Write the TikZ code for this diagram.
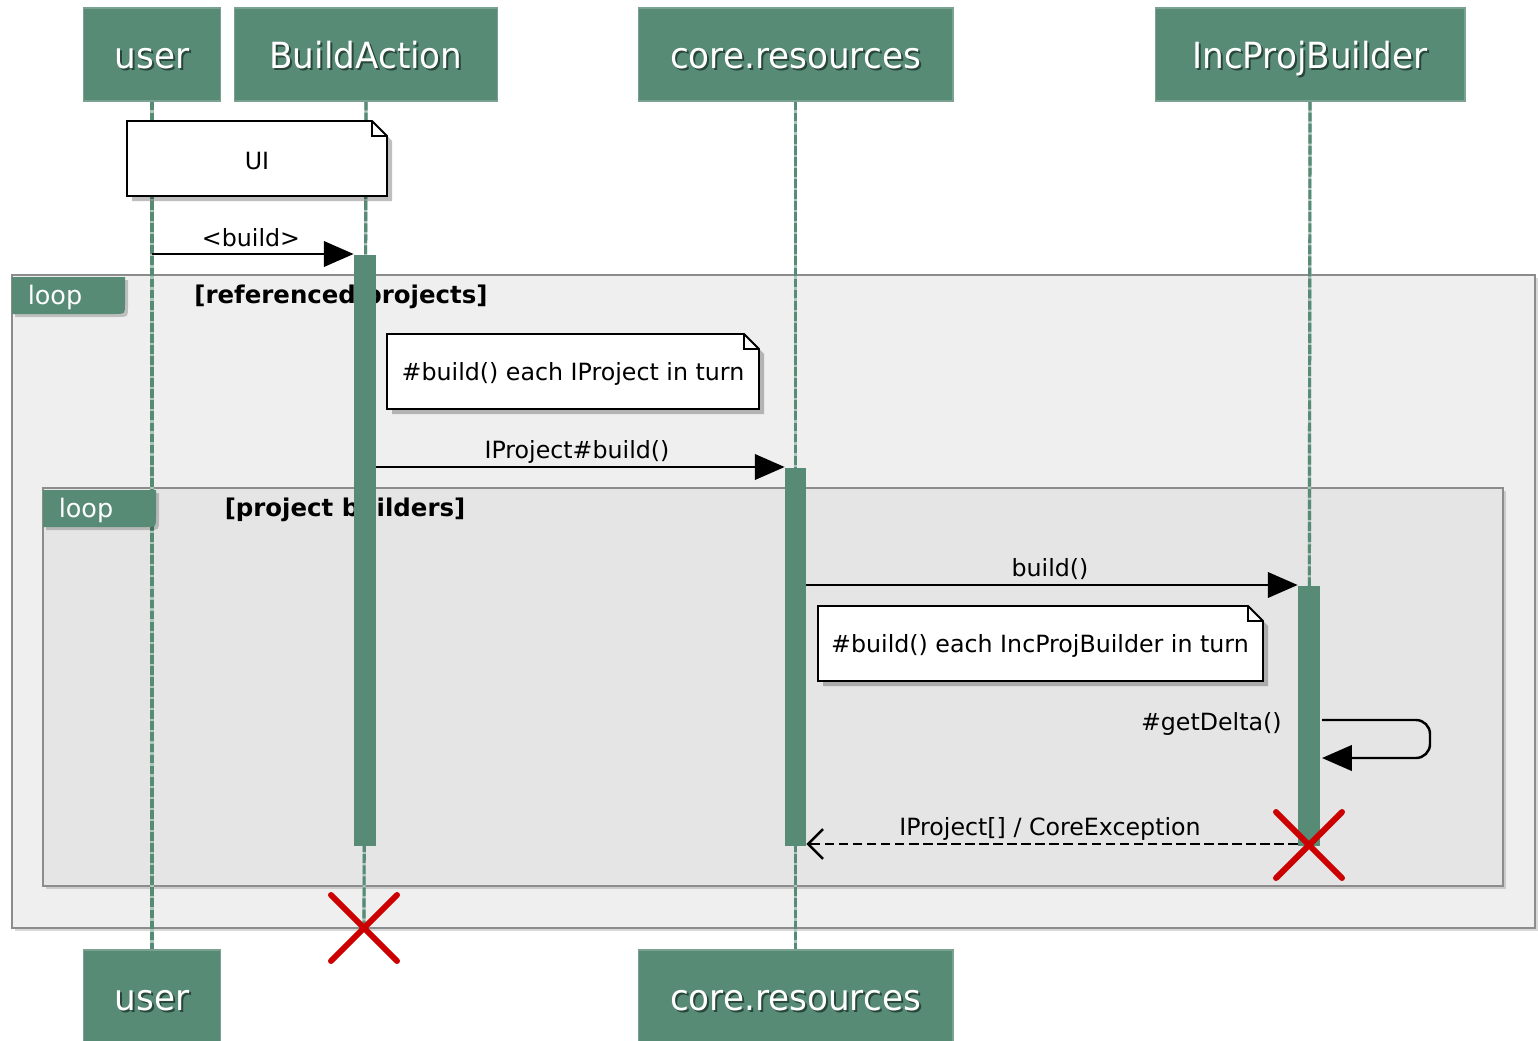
\documentclass[tikz,border=0pt]{standalone}
\usepackage{fontspec}
\setmainfont{DejaVu Sans}
\newfontfamily\partfam[FakeStretch=0.95]{DejaVu Sans}
\usetikzlibrary{arrows.meta}
\definecolor{umlgreen}{RGB}{87,139,118}
\definecolor{umldark}{RGB}{40,70,58}
\definecolor{outerfill}{RGB}{239,239,239}
\definecolor{innerfill}{RGB}{229,229,229}
\definecolor{framegray}{RGB}{140,140,140}
\definecolor{xred}{RGB}{204,0,0}
\newcommand\partfont{\partfam\fontsize{20.5}{24}\selectfont}
\newcommand\msgfont{\fontsize{13.5}{16}\selectfont}
\newcommand\tabfont{\fontsize{14.5}{17}\selectfont}
\newcommand\guardfont{\bfseries\fontsize{13.9}{16}\selectfont}
\newcommand\shtxt[1]{\rlap{\kern1.1pt\raisebox{-1.1pt}{\color{umldark}#1}}#1}
\begin{document}
\begin{tikzpicture}[x=0.02cm,y=-0.02cm,
  participant/.style={fill=umlgreen, draw=umlgreen!80!white, line width=0.6pt, text=white, inner sep=0pt, font=\partfont, minimum height=1.86cm, text height=16pt, text depth=0pt},
  lifebase/.style={draw=umlgreen!50!white, line width=1.8pt},
  lifedash/.style={draw=umlgreen, line width=1.8pt, dash pattern=on 5pt off 1.3pt},
  act/.style={fill=umlgreen, draw=none, inner sep=0pt, minimum width=0.44cm},
  msg/.style={draw=black, line width=1.4pt, -{Triangle[length=17pt,width=14.5pt]}},
  ret/.style={draw=black, line width=1.4pt, dash pattern=on 5.5pt off 2.5pt, -{Straight Barb[length=8.5pt,width=17pt,line width=1.4pt]}},
  lbl/.style={font=\msgfont, text=black, inner sep=0pt},
  framebox/.style={draw=framegray, line width=1.4pt},
  tabshape/.style={fill=umlgreen},
  tabtext/.style={font=\tabfont, text=white, inner sep=0pt},
  guard/.style={font=\guardfont, inner sep=0pt},
  notebox/.style={fill=white, draw=black, line width=1.1pt},
  shadowfill/.style={fill=black, opacity=0.25},
  destroy/.style={draw=xred, line width=3.4pt, line cap=round},
]
\useasboundingbox (0,0) rectangle (1538,1041);
\fill[white] (0,0) rectangle (1538,1041);

% ---- combined fragments (frames) ----
\fill[black, opacity=0.15] (15,278) rectangle (1538,931);
\draw[framebox, fill=outerfill] (12,275) rectangle (1535,928);
\fill[black, opacity=0.15] (46,491) rectangle (1506,889);
\draw[framebox, fill=innerfill] (43,488) rectangle (1503,886);

% ---- participants ----
\node[participant, minimum width=2.74cm] (user) at (152,54.5) {\shtxt{user}};
\node[participant, minimum width=5.26cm] (ba) at (366,54.5) {\shtxt{BuildAction}};
\node[participant, minimum width=6.3cm] (core) at (795.5,54.5) {\shtxt{core.resources}};
\node[participant, minimum width=6.2cm] (ipb) at (1310,54.5) {\shtxt{IncProjBuilder}};
\node[participant, minimum width=2.74cm, minimum height=1.84cm] (userb) at (152,996) {\shtxt{user}};
\node[participant, minimum width=6.3cm, minimum height=1.84cm] (coreb) at (795.5,996) {\shtxt{core.resources}};

% ---- destruction points ----
\coordinate (xba) at (364,928);
\coordinate (xipb) at (1309,845);

% ---- lifelines ----
\foreach \a/\b in {user.south/userb.north, ba.south/xba, core.south/coreb.north, ipb.south/xipb}{
  \draw[lifebase] (\a) -- (\b);
  \draw[lifedash] (\a) -- (\b);
}

% ---- loop tabs and guards ----
\fill[black, opacity=0.2] (15,280) -- (128,280) -- (128,307) .. controls (128,317) .. (118,317) -- (15,317) -- cycle;
\fill[tabshape] (12,277) -- (125,277) -- (125,304) .. controls (125,314) .. (115,314) -- (12,314) -- cycle;
\node[tabtext] (tab1) at (55,297) {loop};
\node[guard] (g1) at (341,297) {[referenced projects]};

\fill[black, opacity=0.2] (46,493) -- (159,493) -- (159,520) .. controls (159,530) .. (149,530) -- (46,530) -- cycle;
\fill[tabshape] (43,490) -- (156,490) -- (156,517) .. controls (156,527) .. (146,527) -- (43,527) -- cycle;
\node[tabtext] (tab2) at (86,510) {loop};
\node[guard] (g2) at (345,510) {[project builders]};

% ---- note UI ----
\fill[shadowfill] (132,126) -- (377,126) -- (392,141) -- (392,201) -- (132,201) -- cycle;
\draw[notebox] (127,121) -- (372,121) -- (387,136) -- (387,196) -- (127,196) -- cycle;
\draw[black, line width=0.8pt] (372,121) -- (372,136) -- (387,136);
\node[lbl] (n1) at (257,161) {UI};

% ---- activations ----
\node[act, minimum height=11.82cm] (baact) at (365,550.5) {};
\node[act, minimum width=0.42cm, minimum height=7.56cm] (coreact) at (795.5,657) {};
\node[act, minimum height=5.2cm] (ipbact) at (1309,716) {};

% ---- note 2 ----
\fill[shadowfill] (392,339) -- (749,339) -- (764,354) -- (764,414) -- (392,414) -- cycle;
\draw[notebox] (387,334) -- (744,334) -- (759,349) -- (759,409) -- (387,409) -- cycle;
\draw[black, line width=0.8pt] (744,334) -- (744,349) -- (759,349);
\node[lbl] (n2) at (573,374) {\#build() each IProject in turn};

% ---- note 3 ----
\fill[shadowfill] (823,611) -- (1253,611) -- (1268,626) -- (1268,686) -- (823,686) -- cycle;
\draw[notebox] (818,606) -- (1248,606) -- (1263,621) -- (1263,681) -- (818,681) -- cycle;
\draw[black, line width=0.8pt] (1248,606) -- (1248,621) -- (1263,621);
\node[lbl] (n3) at (1040,646) {\#build() each IncProjBuilder in turn};

% ---- messages ----
\coordinate (m1s) at (152,254);
\draw[msg] (m1s) -- (m1s -| baact.west);
\node[lbl] (l1) at (251,238) {<build>};

\coordinate (m2s) at (376,467);
\draw[msg] (m2s) -- (m2s -| coreact.west);
\node[lbl] (l2) at (577,452) {IProject\#build()};

\coordinate (m3s) at (806,585);
\draw[msg] (m3s) -- (m3s -| ipbact.west);
\node[lbl] (l3) at (1050,569) {build()};

\coordinate (s1) at (1322,720);
\coordinate (s2) at (1322,758);
\draw[msg, rounded corners=0.28cm] (s1) -- (1430,720) -- (1430,758) -- (s2);
\node[lbl, anchor=east] (l4) at (1282,724) {\#getDelta()};

\coordinate (r1) at (1298,844);
\draw[ret] (r1) -- (r1 -| coreact.east);
\node[lbl] (l5) at (1050,829) {IProject[] / CoreException};

% ---- destroy marks ----
\draw[destroy] ([shift={(-33,-33)}]xba) -- ([shift={(33,33)}]xba);
\draw[destroy] ([shift={(-33,33)}]xba) -- ([shift={(33,-33)}]xba);
\draw[destroy] ([shift={(-33,-33)}]xipb) -- ([shift={(33,33)}]xipb);
\draw[destroy] ([shift={(-33,33)}]xipb) -- ([shift={(33,-33)}]xipb);
\end{tikzpicture}
\end{document}
